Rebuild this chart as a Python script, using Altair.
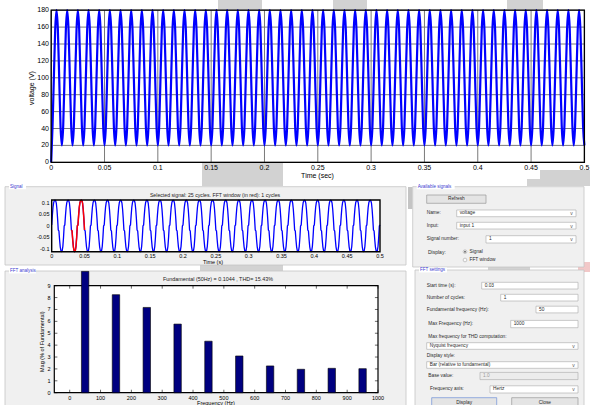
import altair as alt
import pandas as pd

# ---------------- data ----------------
# Output voltage: one period sampled in ms / volts, repeated over the run
volt_cycle_ms = [0.0, 1.25, 2.5, 3.75, 5.0, 6.25, 7.5, 8.75]
volt_cycle_v = [20, 43, 100, 157, 180, 157, 100, 43]
volt_period_ms = 10.0
volt_cycles = 50
volt_start_v = 0
time_ticks = [0, 0.05, 0.1, 0.15, 0.2, 0.25, 0.3, 0.35, 0.4, 0.45, 0.5]
volt_ticks = [0, 20, 40, 60, 80, 100, 120, 140, 160, 180]

# Selected signal for the FFT tool: one 50 Hz period in 1 ms steps
sig_cycle_v = [0.004, 0.045, 0.080, 0.100, 0.108, 0.110, 0.108, 0.098, 0.070, 0.030,
               -0.018, -0.022, -0.060, -0.090, -0.106, -0.110, -0.106, -0.088, -0.050, 0.000]
sig_step_ms = 1.0
sig_period_ms = 20.0
sig_cycles = 25
fft_start_s = 0.03
fft_end_s = 0.05
sig_ticks = [-0.1, -0.05, 0, 0.05, 0.1]

# Harmonic spectrum (% of fundamental)
harm_hz = [50, 150, 250, 350, 450, 550, 650, 750, 850, 950]
harm_mag = [100, 8.24, 7.17, 5.77, 4.33, 3.09, 2.25, 1.97, 2.05, 2.02]
bar_half_hz = 12
freq_ticks = [0, 100, 200, 300, 400, 500, 600, 700, 800, 900, 1000]
mag_ticks = [0, 1, 2, 3, 4, 5, 6, 7, 8, 9]

fft_title = "Fundamental (50Hz) = 0.1044 , THD= 15.43%"
sig_title = "Selected signal: 25 cycles. FFT window (in red): 1 cycles"

# ---------------- tables ----------------
volt_rows = []
for k in range(volt_cycles):
    for ms, v in zip(volt_cycle_ms, volt_cycle_v):
        volt_rows.append({"t": (k * volt_period_ms + ms) / 1000.0, "v": v})
volt_rows[0]["v"] = volt_start_v
volt_rows.append({"t": volt_cycles * volt_period_ms / 1000.0, "v": volt_cycle_v[0]})
volt_df = pd.DataFrame(volt_rows)

sig_rows = []
for k in range(sig_cycles):
    for i, v in enumerate(sig_cycle_v):
        sig_rows.append({"t": (k * sig_period_ms + i * sig_step_ms) / 1000.0, "v": v})
sig_rows.append({"t": sig_cycles * sig_period_ms / 1000.0, "v": sig_cycle_v[0]})
sig_df = pd.DataFrame(sig_rows)

fft_df = pd.DataFrame({"f": harm_hz, "mag": harm_mag})


def tick_table(values):
    return pd.DataFrame({"val": values, "lab": [f"{v:g}" for v in values]})


one = pd.DataFrame({"k": [0]})
W, H = 590, 405
FONT = "Liberation Sans"
GUI_TXT = "#2a2a2a"
PANEL = "#f0f0f0"
PANEL_EDGE = "#c4c4c4"
TITLE_BLUE = "#3a3ad0"


def box(x0, y0, x1, y1, fill, stroke=None, sw=0.8):
    kw = {"fill": fill}
    if stroke:
        kw.update(stroke=stroke, strokeWidth=sw)
    else:
        kw.update(strokeWidth=0)
    return alt.Chart(one).mark_rect(**kw).encode(
        x=alt.value(x0), x2=alt.value(x1), y=alt.value(y0), y2=alt.value(y1))


def label(x, y, s, size=4.8, color=GUI_TXT, align="left", angle=0):
    return alt.Chart(one).mark_text(
        align=align, baseline="middle", fontSize=size, font=FONT, color=color, angle=angle
    ).encode(x=alt.value(x), y=alt.value(y), text=alt.value(s))


def dropdown(x0, y0, x1, y1, s):
    return [box(x0, y0, x1, y1, "white", "#a8a8a8", 0.6),
            label(x0 + 3, (y0 + y1) / 2, s),
            label(x1 - 4.5, (y0 + y1) / 2, "v", size=5, color="#555555", align="center")]


def textbox(x0, y0, x1, y1, s, color=GUI_TXT, fill="white"):
    return [box(x0, y0, x1, y1, fill, "#a8a8a8", 0.6), label(x0 + 3, (y0 + y1) / 2, s, color=color)]


def button(x0, y0, x1, y1, s, edge="#9a9a9a"):
    return [box(x0, y0, x1, y1, "#e4e4e4", edge, 0.7),
            label((x0 + x1) / 2, (y0 + y1) / 2, s, align="center")]


def panel(x0, y0, x1, y1, title, tw):
    return [box(x0, y0, x1, y1, PANEL, PANEL_EDGE, 0.8),
            box(x0 + 4, y0 - 2.5, x0 + 4 + tw, y0 + 2.5, "white"),
            label(x0 + 5, y0, title, size=4.5, color=TITLE_BLUE)]


def x_labels(values, scale, y_px, size):
    return alt.Chart(tick_table(values)).mark_text(
        align="center", baseline="middle", fontSize=size, font=FONT, color="black"
    ).encode(x=alt.X("val:Q", scale=scale, axis=None), y=alt.value(y_px), text="lab:N")


def y_labels(values, scale, x_px, size):
    return alt.Chart(tick_table(values)).mark_text(
        align="right", baseline="middle", fontSize=size, font=FONT, color="black"
    ).encode(y=alt.Y("val:Q", scale=scale, axis=None), x=alt.value(x_px), text="lab:N")


layers = []

# ---------------- background pieces ----------------
layers.append(box(0, 0, W, H, "white"))
for (x0, y0, x1, y1) in [(202, 163, 283, 186), (200, 265, 283, 271), (488, 265, 530, 270),
                         (527, 179, 557, 186), (540, 170, 590, 186), (218, 0, 262, 9),
                         (333, 0, 367, 9), (507, 0, 543, 9)]:
    layers.append(box(x0, y0, x1, y1, "#d2d2d2"))
layers.append(box(578, 262, 590, 272, "#f2c8c8"))

# ---------------- GUI panels ----------------
layers += panel(5, 186.7, 406, 265, "Signal", 17)
layers += panel(412.7, 186.7, 584, 267, "Available signals", 38)
layers += panel(5, 271, 406, 412, "FFT analysis", 27)
layers += panel(415, 270, 584, 412, "FFT settings", 28)
layers.append(box(408, 187, 412.3, 209, "#c4c4c4"))

# Available signals widgets
layers += button(426.7, 195, 486, 203.3, "Refresh")
layers.append(label(426.7, 213.3, "Name:"))
layers += dropdown(456.7, 210, 576, 216.7, "voltage")
layers.append(label(426.7, 225.7, "Input:"))
layers += dropdown(456.7, 222.3, 576, 229, "input 1")
layers.append(label(426.7, 239.3, "Signal number:"))
layers += dropdown(486, 235.7, 576, 243, "1")
layers.append(label(428, 251.7, "Display:", size=5))
for yy in (251.7, 260):
    layers.append(alt.Chart(one).mark_point(shape="circle", size=14, filled=True, fill="white",
                                            stroke="#8a8a8a", strokeWidth=0.6)
                  .encode(x=alt.value(465), y=alt.value(yy)))
layers.append(alt.Chart(one).mark_point(shape="circle", size=3.5, filled=True, fill="#222222",
                                        strokeWidth=0).encode(x=alt.value(465), y=alt.value(251.7)))
layers.append(label(469.5, 251.7, "Signal"))
layers.append(label(469.5, 260, "FFT window"))

# FFT settings widgets
layers.append(label(426.7, 285.7, "Start time (s):"))
layers += textbox(481.7, 282.3, 578, 289, "0.03")
layers.append(label(426.7, 297.6, "Number of cycles:"))
layers += textbox(500.7, 294.3, 578, 301, "1")
layers.append(label(426.7, 309.5, "Fundamental frequency (Hz):"))
layers += textbox(536, 306.2, 578, 312.9, "50")
layers.append(label(428.3, 324, "Max Frequency (Hz):"))
layers += textbox(510.7, 320.4, 578, 327.7, "1000")
layers.append(label(428.3, 336.7, "Max frequency for THD computation:"))
layers += dropdown(426.7, 342.7, 578, 349.3, "Nyquist frequency")
layers.append(label(426.7, 355.7, "Display style:"))
layers += dropdown(426.7, 361.7, 578, 368.3, "Bar (relative to fundamental)")
layers.append(label(428.3, 376, "Base value:"))
layers += textbox(480, 372.4, 578, 379.6, "1.0", color="#9a9a9a", fill="#ececec")
layers.append(label(430, 389.4, "Frequency axis:"))
layers += dropdown(490, 385.8, 578, 393, "Hertz")
layers += button(431.7, 397.7, 496.7, 408, "Display", edge="#6f8fd8")
layers += button(511.7, 397.7, 578, 408, "Close")

# ---------------- voltage plot ----------------
tx = alt.Scale(domain=[0, 0.5], range=[51.2, 584.4], nice=False, zero=False)
ty = alt.Scale(domain=[0, 180], range=[162.3, 10.2], nice=False, zero=False)
vgrid = pd.DataFrame({"t": time_ticks, "lo": volt_ticks[0], "hi": volt_ticks[-1]})
hgrid = pd.DataFrame({"v": volt_ticks, "lo": time_ticks[0], "hi": time_ticks[-1]})
top_frame = pd.DataFrame({"t0": [time_ticks[0]], "t1": [time_ticks[-1]],
                          "v0": [volt_ticks[0]], "v1": [volt_ticks[-1]]})

top_bg = alt.Chart(top_frame).mark_rect(fill="white").encode(
    x=alt.X("t0:Q", scale=tx, axis=None), x2="t1:Q",
    y=alt.Y("v0:Q", scale=ty, axis=None), y2="v1:Q")
top_vg = alt.Chart(vgrid).mark_rule(color="#7a7a7a", strokeWidth=1).encode(
    x=alt.X("t:Q", scale=tx, axis=None), y=alt.Y("lo:Q", scale=ty, axis=None), y2="hi:Q")
top_hg = alt.Chart(hgrid).mark_rule(color="#7a7a7a", strokeWidth=1).encode(
    y=alt.Y("v:Q", scale=ty, axis=None), x=alt.X("lo:Q", scale=tx, axis=None), x2="hi:Q")
top_line = alt.Chart(volt_df).mark_line(color="#0000ff", strokeWidth=2.2, interpolate="monotone").encode(
    x=alt.X("t:Q", scale=tx, axis=None), y=alt.Y("v:Q", scale=ty, axis=None))
top_box = alt.Chart(top_frame).mark_rect(fillOpacity=0, stroke="black", strokeWidth=1.3).encode(
    x=alt.X("t0:Q", scale=tx, axis=None), x2="t1:Q",
    y=alt.Y("v0:Q", scale=ty, axis=None), y2="v1:Q")
layers.append(alt.layer(top_bg, top_vg, top_hg, top_line, top_box,
                        x_labels(time_ticks, tx, 167.8, 7),
                        y_labels(volt_ticks, ty, 49, 7)))
layers.append(label(317.5, 176, "Time (sec)", size=7, color="black", align="center"))
layers.append(label(31.5, 88, "voltage (V)", size=7, color="black", align="center", angle=270))

# ---------------- signal preview ----------------
sx = alt.Scale(domain=[0, 0.5], range=[51.7, 380], nice=False, zero=False)
sy = alt.Scale(domain=[-0.111, 0.111], range=[251.7, 200], nice=False, zero=False)
sig_frame = pd.DataFrame({"t0": [0], "t1": [0.5], "v0": [-0.111], "v1": [0.111]})
sig_bg = alt.Chart(sig_frame).mark_rect(fill="white").encode(
    x=alt.X("t0:Q", scale=sx, axis=None), x2="t1:Q",
    y=alt.Y("v0:Q", scale=sy, axis=None), y2="v1:Q")
sig_line = alt.Chart(sig_df).mark_line(color="#0000ff", strokeWidth=1.3).encode(
    x=alt.X("t:Q", scale=sx, axis=None), y=alt.Y("v:Q", scale=sy, axis=None))
sig_red = alt.Chart(sig_df).transform_filter(
    f"datum.t >= {fft_start_s - 1e-6} && datum.t <= {fft_end_s + 1e-6}"
).mark_line(color="#ff0000", strokeWidth=1.5).encode(
    x=alt.X("t:Q", scale=sx, axis=None), y=alt.Y("v:Q", scale=sy, axis=None))
sig_box = alt.Chart(sig_frame).mark_rect(fillOpacity=0, stroke="black", strokeWidth=1.4).encode(
    x=alt.X("t0:Q", scale=sx, axis=None), x2="t1:Q",
    y=alt.Y("v0:Q", scale=sy, axis=None), y2="v1:Q")
layers.append(alt.layer(sig_bg, sig_line, sig_red, sig_box,
                        x_labels(time_ticks, sx, 256.3, 5.5),
                        y_labels(sig_ticks, sy, 49.5, 5.5)))
layers.append(label(213, 261.5, "Time (s)", size=5.5, color="black", align="center"))
layers.append(label(215, 195, sig_title, size=5.2, color="#222222", align="center"))

# ---------------- FFT bars ----------------
fx = alt.Scale(domain=[-50, 1000], range=[54.3, 378], nice=False, zero=False)
fy = alt.Scale(domain=[0, 10.2], range=[392.7, 271.4], nice=False, zero=False, clamp=True)
fft_frame = pd.DataFrame({"f0": [-50], "f1": [1000], "m0": [0], "m1": [9]})
xt = pd.DataFrame({"f": freq_ticks, "a": 0, "b": 0.25, "c": 9, "d": 8.75})
yt = pd.DataFrame({"m": mag_ticks, "a": -50, "b": -40, "c": 1000, "d": 990})
fft_bg = alt.Chart(fft_frame).mark_rect(fill="white").encode(
    x=alt.X("f0:Q", scale=fx, axis=None), x2="f1:Q",
    y=alt.Y("m0:Q", scale=fy, axis=None), y2="m1:Q")
fft_bars = alt.Chart(fft_df).transform_calculate(
    lo=f"datum.f - {bar_half_hz}", hi=f"datum.f + {bar_half_hz}"
).mark_rect(fill="#000080", stroke="black", strokeWidth=0.6).encode(
    x=alt.X("lo:Q", scale=fx, axis=None), x2="hi:Q",
    y=alt.Y("mag:Q", scale=fy, axis=None), y2=alt.datum(0))
fft_xt1 = alt.Chart(xt).mark_rule(color="black", strokeWidth=0.6).encode(
    x=alt.X("f:Q", scale=fx, axis=None), y=alt.Y("a:Q", scale=fy, axis=None), y2="b:Q")
fft_xt2 = alt.Chart(xt).mark_rule(color="black", strokeWidth=0.6).encode(
    x=alt.X("f:Q", scale=fx, axis=None), y=alt.Y("c:Q", scale=fy, axis=None), y2="d:Q")
fft_yt1 = alt.Chart(yt).mark_rule(color="black", strokeWidth=0.6).encode(
    y=alt.Y("m:Q", scale=fy, axis=None), x=alt.X("a:Q", scale=fx, axis=None), x2="b:Q")
fft_yt2 = alt.Chart(yt).mark_rule(color="black", strokeWidth=0.6).encode(
    y=alt.Y("m:Q", scale=fy, axis=None), x=alt.X("c:Q", scale=fx, axis=None), x2="d:Q")
fft_box = alt.Chart(fft_frame).mark_rect(fillOpacity=0, stroke="black", strokeWidth=1.2).encode(
    x=alt.X("f0:Q", scale=fx, axis=None), x2="f1:Q",
    y=alt.Y("m0:Q", scale=fy, axis=None), y2="m1:Q")
layers.append(alt.layer(fft_bg, fft_xt1, fft_xt2, fft_yt1, fft_yt2, fft_box, fft_bars,
                        x_labels(freq_ticks, fx, 397.5, 5.5),
                        y_labels(mag_ticks, fy, 50.5, 5.5)))
layers.append(label(216, 402.5, "Frequency (Hz)", size=5.5, color="black", align="center"))
layers.append(label(41.7, 341.7, "Mag (% of Fundamental)", size=5.5, color="black",
                    align="center", angle=270))
layers.append(label(218, 279.3, fft_title, size=5.4, color="#222222", align="center"))

chart = alt.layer(*layers).resolve_scale(
    x="independent", y="independent"
).properties(
    width=W, height=H, autosize=alt.AutoSizeParams(type="none"), padding=0, background="white"
).configure_view(strokeWidth=0)

chart.save("out.html", embed_options={"renderer": "svg", "actions": False})
